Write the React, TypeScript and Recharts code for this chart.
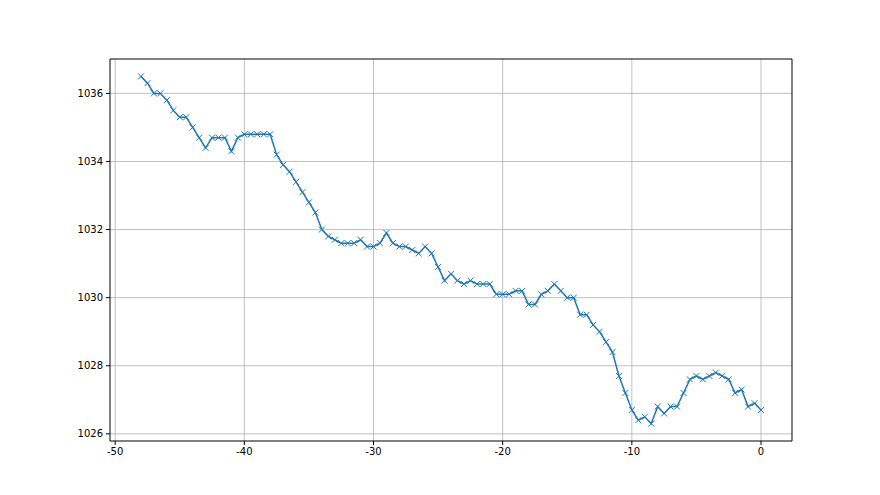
import React from 'react';
import { LineChart, Line, XAxis, YAxis, CartesianGrid, ReferenceLine } from 'recharts';

const xValues: number[] = [
  -48, -47.5, -47, -46.5, -46, -45.5, -45, -44.5, -44, -43.5, -43, -42.5, -42, -41.5, -41, -40.5,
  -40, -39.5, -39, -38.5, -38, -37.5, -37, -36.5, -36, -35.5, -35, -34.5, -34, -33.5, -33, -32.5,
  -32, -31.5, -31, -30.5, -30, -29.5, -29, -28.5, -28, -27.5, -27, -26.5, -26, -25.5, -25, -24.5,
  -24, -23.5, -23, -22.5, -22, -21.5, -21, -20.5, -20, -19.5, -19, -18.5, -18, -17.5, -17, -16.5,
  -16, -15.5, -15, -14.5, -14, -13.5, -13, -12.5, -12, -11.5, -11, -10.5, -10, -9.5, -9, -8.5,
  -8, -7.5, -7, -6.5, -6, -5.5, -5, -4.5, -4, -3.5, -3, -2.5, -2, -1.5, -1, -0.5, 0,
];

const pressure: number[] = [
  1036.5, 1036.3, 1036.0, 1036.0, 1035.8, 1035.5, 1035.3, 1035.3, 1035.0, 1034.7, 1034.4, 1034.7, 1034.7, 1034.7, 1034.3, 1034.7,
  1034.8, 1034.8, 1034.8, 1034.8, 1034.8, 1034.2, 1033.9, 1033.7, 1033.4, 1033.1, 1032.8, 1032.5, 1032.0, 1031.8, 1031.7, 1031.6,
  1031.6, 1031.6, 1031.7, 1031.5, 1031.5, 1031.6, 1031.9, 1031.6, 1031.5, 1031.5, 1031.4, 1031.3, 1031.5, 1031.3, 1030.9, 1030.5,
  1030.7, 1030.5, 1030.4, 1030.5, 1030.4, 1030.4, 1030.4, 1030.1, 1030.1, 1030.1, 1030.2, 1030.2, 1029.8, 1029.8, 1030.1, 1030.2,
  1030.4, 1030.2, 1030.0, 1030.0, 1029.5, 1029.5, 1029.2, 1029.0, 1028.7, 1028.4, 1027.7, 1027.2, 1026.7, 1026.4, 1026.5, 1026.3,
  1026.8, 1026.6, 1026.8, 1026.8, 1027.2, 1027.6, 1027.7, 1027.6, 1027.7, 1027.8, 1027.7, 1027.6, 1027.2, 1027.3, 1026.8, 1026.9, 1026.7,
];

const xTicks: number[] = [-50, -40, -30, -20, -10, 0];
const yTicks: number[] = [1026, 1028, 1030, 1032, 1034, 1036];
const xDomain: [number, number] = [-50.4, 2.4];
const yDomain: [number, number] = [1025.79, 1037.01];

const data = xValues.map((x, i) => ({ x, y: pressure[i] }));

const COLOR = '#1f77b4';

const XMarker = (props: any) => {
  const { cx, cy, index } = props;
  if (cx == null || cy == null) return <g key={index} />;
  const s = 3;
  return (
    <path
      key={index}
      d={`M${cx - s},${cy - s}L${cx + s},${cy + s}M${cx - s},${cy + s}L${cx + s},${cy - s}`}
      stroke={COLOR}
      strokeWidth={1}
      fill="none"
    />
  );
};

const tickStyle = { fontFamily: 'DejaVu Sans', fontSize: 10, fill: '#000' };

export default function App() {
  return (
    <div style={{ position: 'absolute', left: 0, top: 0, width: 880, height: 495, background: '#fff' }}>
      <LineChart
        width={880}
        height={495}
        data={data}
        margin={{ top: 59, right: 88, bottom: 0, left: 0 }}
      >
        <CartesianGrid stroke="#b0b0b0" strokeWidth={0.8} horizontalValues={yTicks} verticalValues={xTicks} />
        <XAxis
          dataKey="x"
          type="number"
          domain={xDomain}
          ticks={xTicks}
          allowDataOverflow
          height={54}
          tick={tickStyle}
          tickSize={4}
          tickMargin={3}
          axisLine={{ stroke: '#000', strokeWidth: 1 }}
          tickLine={{ stroke: '#000' }}
        />
        <YAxis
          type="number"
          domain={yDomain}
          ticks={yTicks}
          allowDataOverflow
          width={110}
          tick={tickStyle}
          tickSize={4}
          tickMargin={3}
          axisLine={{ stroke: '#000', strokeWidth: 1 }}
          tickLine={{ stroke: '#000' }}
        />
        <ReferenceLine y={yDomain[1]} stroke="#000" strokeWidth={1} ifOverflow="visible" />
        <ReferenceLine x={xDomain[1]} stroke="#000" strokeWidth={1} ifOverflow="visible" />
        <Line
          dataKey="y"
          stroke={COLOR}
          strokeWidth={1.5}
          dot={XMarker}
          activeDot={false}
          isAnimationActive={false}
        />
      </LineChart>
    </div>
  );
}
